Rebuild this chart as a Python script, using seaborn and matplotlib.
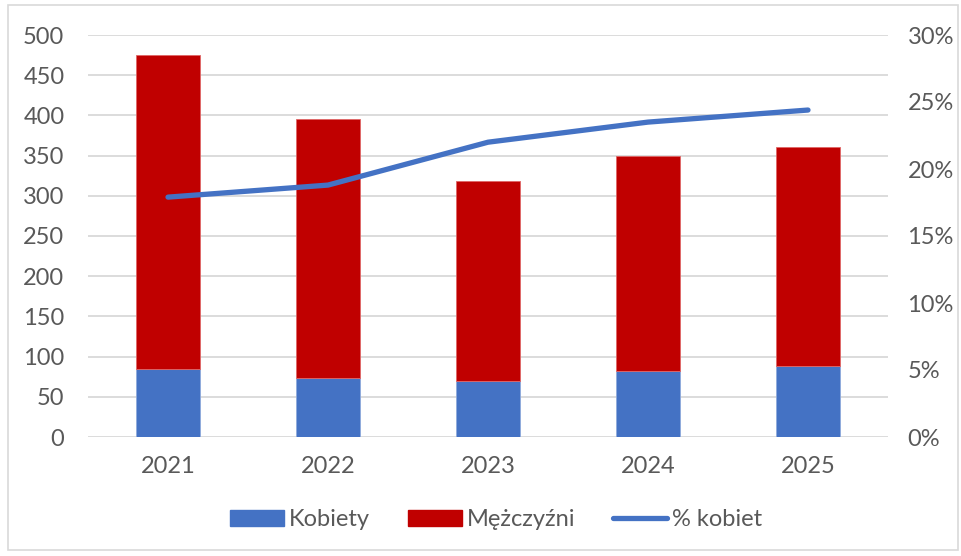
import numpy as np
import matplotlib
matplotlib.use('Agg')
import matplotlib.pyplot as plt
import seaborn as sns
from matplotlib.patches import Patch, Rectangle
from matplotlib.lines import Line2D
from matplotlib.ticker import PercentFormatter, MultipleLocator

sns.set_theme(style='white')
plt.rcParams['font.family'] = ['Lato', 'DejaVu Sans']

# data
years = ['2021', '2022', '2023', '2024', '2025']
kobiety = [85, 74, 70, 82, 88]
mezczyzni = [390, 321, 248, 268, 273]
pct_kobiet = [0.179, 0.188, 0.220, 0.235, 0.244]

BLUE = '#4472C4'
RED = '#C00000'
TXT = '#595959'
GRID = '#D9D9D9'
FS = 17

fig = plt.figure(figsize=(9.61, 5.56), dpi=100)
ax = fig.add_axes([88 / 961, 1 - 437 / 556, 800 / 961, 402 / 556])

sns.barplot(x=years, y=kobiety, color=BLUE, width=0.4, errorbar=None,
            edgecolor='#8FAADC', linewidth=0.6, ax=ax, saturation=1)
sns.barplot(x=years, y=mezczyzni, bottom=kobiety, color=RED, width=0.4,
            errorbar=None, edgecolor='#E06666', linewidth=0.6, ax=ax, saturation=1)

ax.set_ylim(0, 500)
ax.set_xlim(-0.5, len(years) - 0.5)
ax.yaxis.set_major_locator(MultipleLocator(50))
ax.grid(axis='y', color=GRID, linewidth=1.3)
ax.set_axisbelow(True)
for s in ax.spines.values():
    s.set_visible(False)
ax.tick_params(axis='y', length=0, pad=17, labelsize=FS, labelcolor=TXT)
ax.tick_params(axis='x', length=0, pad=14, labelsize=FS, labelcolor=TXT)
ax.set_xlabel('')
ax.set_ylabel('')

ax2 = ax.twinx()
sns.lineplot(x=np.arange(len(years)), y=pct_kobiet, color=BLUE, linewidth=3.8,
             ax=ax2, solid_capstyle='round')
ax2.set_ylim(0, 0.30)
ax2.yaxis.set_major_locator(MultipleLocator(0.05))
ax2.yaxis.set_major_formatter(PercentFormatter(xmax=1, decimals=0))
ax2.tick_params(axis='y', length=0, pad=14, labelsize=FS, labelcolor=TXT)
ax2.grid(False)
for s in ax2.spines.values():
    s.set_visible(False)
ax2.set_ylabel('')

handles = [Patch(facecolor=BLUE, edgecolor=BLUE),
           Patch(facecolor=RED, edgecolor=RED),
           Line2D([0], [0], color=BLUE, linewidth=3.8, solid_capstyle='round')]
labels = ['Kobiety', 'Mężczyźni', '% kobiet']
leg = fig.legend(handles, labels, loc='center', bbox_to_anchor=(496 / 961, 1 - 520 / 556),
                 ncol=3, frameon=False, fontsize=FS, handlelength=2.3, handleheight=0.65,
                 handletextpad=0.2, columnspacing=1.6)
for t in leg.get_texts():
    t.set_color(TXT)

fig.add_artist(Rectangle((8 / 961, 1 - 550 / 556), 950 / 961, 545 / 556,
                         transform=fig.transFigure, fill=False,
                         edgecolor=GRID, linewidth=1.2))

fig.savefig('out.png', dpi=100)
